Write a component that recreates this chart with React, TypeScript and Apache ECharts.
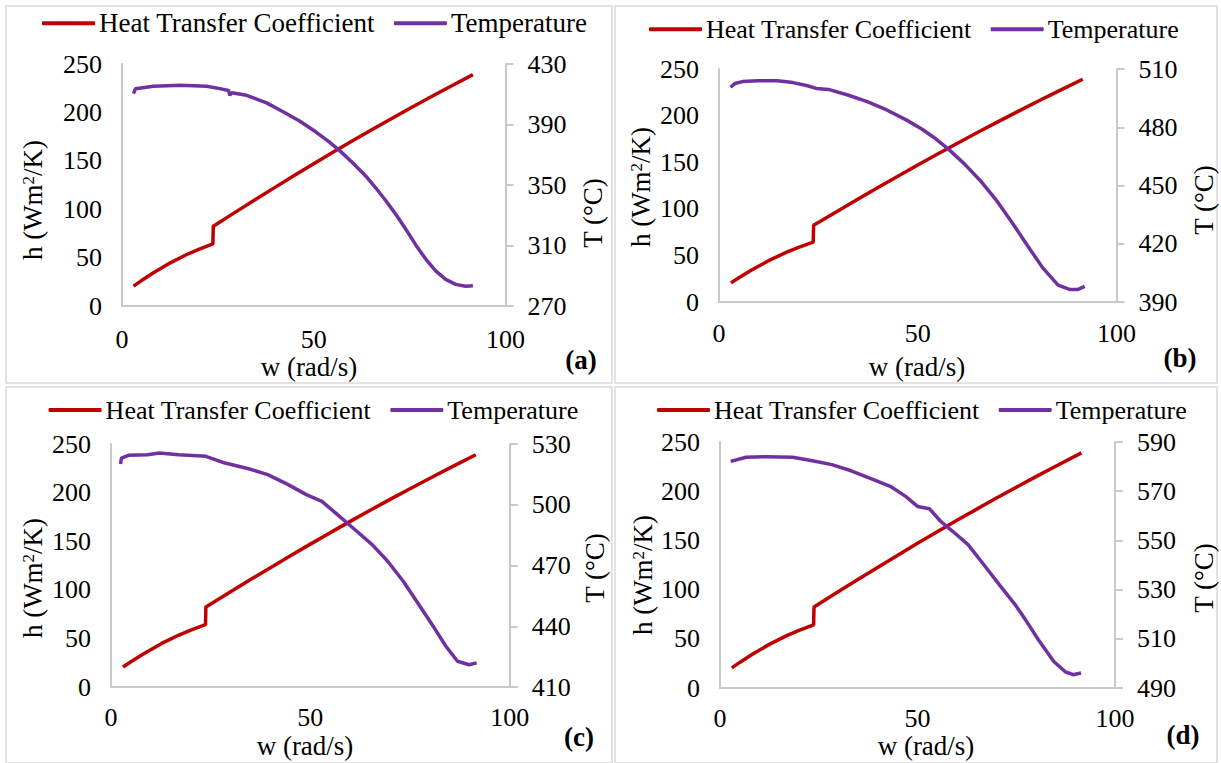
import React, { useEffect, useRef } from 'react';
import * as echarts from 'echarts';

// Heat transfer coefficient h (W/m²K) vs angular speed w (rad/s) – same for all panels
const hW = [3, 5, 8.2, 12.6, 16.9, 20, 23.7, 23.8, 30, 35, 40, 45, 50, 55, 60, 65, 70, 75, 80, 85, 91.5];
const hVal = [20.5, 26, 34.3, 44.6, 53.2, 58.6, 64.2, 82.4, 98, 110.5, 122.8, 135, 147, 158.8, 170.4, 181.8, 193, 204, 214.8, 225.4, 239];

// Temperature (°C) vs w, panel (a)
const wA = [3.0, 3.5, 8.2, 15.2, 22.1, 25.5, 27.8, 28.1, 28.6, 32.5, 37.7, 42, 46.3, 50.6, 54.1, 56.7, 60.2, 63.6, 66.2, 68.8, 71.4, 74, 76.6, 79.2, 81.8, 84.4, 87, 89.6, 91.5];
const tA = [410.4, 413.7, 415.3, 415.9, 415.3, 413.7, 412.5, 409.3, 411, 409.3, 404.3, 398.4, 392.3, 385, 378.3, 372.9, 364.5, 355.8, 348, 339.6, 330.6, 320.8, 310.4, 301, 293.2, 287.6, 284.3, 283.1, 283.4];
// panel (b)
const wB = [2.9, 4, 5.9, 9.8, 14.7, 18.6, 22, 24.5, 27.5, 32.4, 37.3, 42.2, 47.1, 51, 53.9, 57.8, 61.8, 65.7, 69.6, 73.5, 77.5, 81.4, 85.3, 88.2, 90.2, 92];
const tB = [500.6, 502.5, 503.5, 504, 504, 503, 501.5, 500, 499.5, 496.6, 493.2, 488.9, 483.8, 479.1, 475, 468.6, 461, 452.6, 442.9, 431.6, 419.4, 407.7, 398.7, 396.5, 396.4, 398];
// panel (c)
const wC = [2.4, 2.6, 4.4, 9.2, 12.1, 17, 23.8, 28.6, 34.5, 39.3, 44.2, 49, 52.9, 56.8, 60.7, 65.5, 69.4, 73.3, 77.2, 81.1, 84, 86.9, 89.8, 91.7];
const tC = [520.1, 523, 524.4, 524.7, 525.6, 524.7, 523.9, 520.6, 517.8, 514.9, 510.2, 505, 501.7, 495.1, 488.5, 480.3, 472.1, 462.2, 450.7, 439.1, 430.1, 422.7, 421, 421.9];
// panel (d)
const wD = [2.7, 6.6, 11.5, 18.4, 23.4, 28.3, 33.2, 38.2, 43.1, 47, 50, 53, 55.9, 58.9, 62.8, 66.8, 70.7, 74.7, 77.6, 80.6, 84.5, 87.5, 89.4, 91.4];
const tD = [582.1, 583.8, 584, 583.8, 582.4, 580.8, 578.3, 575.1, 572, 567.9, 563.8, 562.9, 557.7, 553.7, 548.3, 540.1, 532, 523.9, 517.1, 509.6, 500.8, 496.5, 495.4, 496.1];

// Tick labels
const wTicks = [0, 50, 100];
const hTicks = [0, 50, 100, 150, 200, 250];
const tTicksA = [270, 310, 350, 390, 430];
const tTicksB = [390, 420, 450, 480, 510];
const tTicksC = [410, 440, 470, 500, 530];
const tTicksD = [490, 510, 530, 550, 570, 590];

const seriesNames = ['Heat Transfer Coefficient', 'Temperature'];
const panelLabels = ['(a)', '(b)', '(c)', '(d)'];

const FONT = "'Times New Roman', 'Liberation Serif', Tinos, serif";
const RED = '#C00000';
const PURPLE = '#7030A0';
const AXIS = '#c9c9c9';
const TICK_FS = 26;
const TEXT_FS = 27;

const panels = [
  { w: wA, t: tA, tTicks: tTicksA, grid: { left: 122, top: 64, width: 383.5, height: 242 }, xMargin: 20, legend: { left: 42, cy: 23.3, fs: 27 }, box: [6, 6, 606, 377], hTitle: [33, 200], tTitle: [593, 213], wTitle: [309, 367], label: [581, 360] },
  { w: wB, t: tB, tTicks: tTicksB, grid: { left: 719, top: 69, width: 397.5, height: 233 }, xMargin: 18, legend: { left: 649, cy: 29.3, fs: 26 }, box: [615, 6, 602, 377], hTitle: [641, 187], tTitle: [1204, 200], wTitle: [917, 367], label: [1180, 358] },
  { w: wC, t: tC, tTicks: tTicksC, grid: { left: 111, top: 444, width: 398.7, height: 243 }, xMargin: 17, legend: { left: 48.6, cy: 410, fs: 26 }, box: [6, 387, 606, 376], hTitle: [33, 578], tTitle: [595, 568], wTitle: [305, 746], label: [579, 737] },
  { w: wD, t: tD, tTicks: tTicksD, grid: { left: 720, top: 442, width: 395, height: 246 }, xMargin: 17, legend: { left: 657, cy: 410, fs: 26 }, box: [615, 387, 602, 376], hTitle: [643, 575], tTitle: [1204, 578], wTitle: [926, 746], label: [1183, 735] },
];

export default function App() {
  const ref = useRef<HTMLDivElement>(null);
  useEffect(() => {
    if (!ref.current) return;
    const chart = echarts.init(ref.current, undefined, { renderer: 'svg' });
    const grids: any[] = [];
    const xAxes: any[] = [];
    const yAxes: any[] = [];
    const series: any[] = [];
    const legends: any[] = [];
    const graphics: any[] = [];
    const labelStyle = { fontFamily: FONT, fontSize: TICK_FS, color: '#000' };

    panels.forEach((p, i) => {
      grids.push({ ...p.grid });
      xAxes.push({
        type: 'value', gridIndex: i, min: wTicks[0], max: wTicks[wTicks.length - 1], interval: wTicks[1] - wTicks[0],
        axisLine: { show: true, lineStyle: { color: AXIS, width: 2 } },
        axisTick: { show: false }, splitLine: { show: false },
        axisLabel: { ...labelStyle, margin: p.xMargin, showMinLabel: true, showMaxLabel: true },
      });
      yAxes.push({
        type: 'value', gridIndex: i, position: 'left', min: hTicks[0], max: hTicks[hTicks.length - 1], interval: hTicks[1] - hTicks[0],
        axisLine: { show: true, lineStyle: { color: AXIS, width: 2 } },
        axisTick: { show: false }, splitLine: { show: false },
        axisLabel: { ...labelStyle, margin: 20 },
      });
      yAxes.push({
        type: 'value', gridIndex: i, position: 'right', min: p.tTicks[0], max: p.tTicks[p.tTicks.length - 1],
        axisLine: { show: true, lineStyle: { color: AXIS, width: 2 } },
        axisTick: { show: true, inside: false, length: 8, lineStyle: { color: AXIS, width: 2 }, customValues: p.tTicks },
        splitLine: { show: false },
        axisLabel: { ...labelStyle, margin: 22, customValues: p.tTicks },
      });
      series.push({
        name: seriesNames[0], type: 'line', xAxisIndex: i, yAxisIndex: 2 * i,
        data: hW.map((w, k) => [w, hVal[k]]), showSymbol: false, symbol: 'none',
        lineStyle: { color: RED, width: 3.5 }, itemStyle: { color: RED },
      });
      series.push({
        name: seriesNames[1], type: 'line', xAxisIndex: i, yAxisIndex: 2 * i + 1,
        data: p.w.map((w, k) => [w, p.t[k]]), showSymbol: false, symbol: 'none',
        lineStyle: { color: PURPLE, width: 3.5 }, itemStyle: { color: PURPLE },
      });
      legends.push({
        left: p.legend.left, top: p.legend.cy - p.legend.fs / 2, padding: 0, itemGap: 19,
        itemWidth: 53, itemHeight: 4, icon: 'roundRect', data: seriesNames,
        textStyle: { fontFamily: FONT, fontSize: p.legend.fs, color: '#000', padding: [0, 0, 0, -1] },
      });
      const [bx, by, bw, bh] = p.box;
      graphics.push({ type: 'rect', shape: { x: bx, y: by, width: bw, height: bh }, style: { fill: 'none', stroke: '#d9d9d9', lineWidth: 1.5 }, silent: true });
      graphics.push({
        type: 'text', x: p.hTitle[0], y: p.hTitle[1], rotation: Math.PI / 2,
        style: { text: 'h (Wm{sup|2}/K)', fontFamily: FONT, fontSize: TEXT_FS, fill: '#000', align: 'center', verticalAlign: 'middle',
          rich: { sup: { fontFamily: FONT, fontSize: 17, fill: '#000', verticalAlign: 'top', padding: [0, 0, 10, 0] } } },
      });
      graphics.push({
        type: 'text', x: p.tTitle[0], y: p.tTitle[1], rotation: Math.PI / 2,
        style: { text: 'T (°C)', fontFamily: FONT, fontSize: TEXT_FS, fill: '#000', align: 'center', verticalAlign: 'middle' },
      });
      graphics.push({
        type: 'text', x: p.wTitle[0], y: p.wTitle[1],
        style: { text: 'w (rad/s)', fontFamily: FONT, fontSize: TEXT_FS, fill: '#000', align: 'center', verticalAlign: 'middle' },
      });
      graphics.push({
        type: 'text', x: p.label[0], y: p.label[1],
        style: { text: panelLabels[i], fontFamily: FONT, fontSize: TEXT_FS, fontWeight: 'bold', fill: '#000', align: 'center', verticalAlign: 'middle' },
      });
    });

    chart.setOption({
      animation: false,
      backgroundColor: '#fff',
      grid: grids,
      xAxis: xAxes,
      yAxis: yAxes,
      series,
      legend: legends,
      graphic: { elements: graphics },
      tooltip: { show: false },
    });
    return () => chart.dispose();
  }, []);
  return <div ref={ref} style={{ position: 'absolute', left: 0, top: 0, width: 1221, height: 763, background: '#fff' }} />;
}
